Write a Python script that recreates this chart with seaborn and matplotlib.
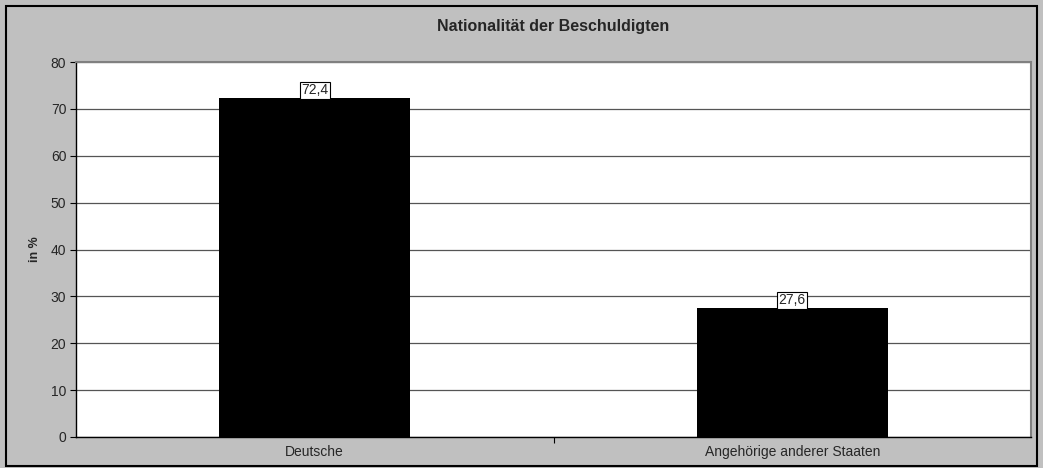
import matplotlib
matplotlib.use("Agg")
import matplotlib.pyplot as plt
import seaborn as sns
import pandas as pd
from matplotlib.patches import Rectangle

# Chart data
categories = ["Deutsche", "Angehörige anderer Staaten"]
values = [72.4, 27.6]
value_labels = ["72,4", "27,6"]
y_ticks = [0, 10, 20, 30, 40, 50, 60, 70, 80]

df = pd.DataFrame({"Nationalität": categories, "Anteil": values})

sns.set_style("white")
plt.rcParams["font.family"] = ["Liberation Sans", "DejaVu Sans"]

fig = plt.figure(figsize=(10.43, 4.68), dpi=100)
fig.patch.set_facecolor("#C0C0C0")

# outer chart frame
fig.patches.append(Rectangle((6 / 1043, 2 / 468), 1031 / 1043, 460 / 468,
                             transform=fig.transFigure, fill=False,
                             edgecolor="black", linewidth=1.5))

ax = fig.add_axes([76 / 1043, 31 / 468, 955 / 1043, 375 / 468])
ax.set_facecolor("white")

sns.barplot(data=df, x="Nationalität", y="Anteil", color="black",
            width=0.4, saturation=1, ax=ax, zorder=3,
            edgecolor="black", linewidth=0)

ax.set_ylim(0, 80)
ax.set_xlim(-0.5, 1.5)
ax.set_yticks(y_ticks)
ax.yaxis.grid(True, color="#555555", linewidth=0.9, zorder=0)
ax.set_axisbelow(True)

# value labels in white boxes, sitting on the bar tops
for i, (v, lbl) in enumerate(zip(values, value_labels)):
    ax.text(i, v + 0.05, lbl, ha="center", va="bottom", fontsize=10,
            zorder=5,
            bbox=dict(boxstyle="square,pad=0.12", facecolor="white",
                      edgecolor="black", linewidth=0.8))

fig.text(ax.get_position().x0 + ax.get_position().width / 2, 1 - 27 / 468,
         "Nationalität der Beschuldigten", fontsize=11.5, fontweight="bold",
         ha="center", va="center")
ax.set_ylabel("in %", fontsize=9, fontweight="bold", labelpad=7)
ax.set_xlabel("")

ax.tick_params(axis="y", direction="out", length=4, width=0.8, labelsize=10,
               left=True, color="black", pad=3)
ax.tick_params(axis="x", which="major", length=0, labelsize=10, pad=6)
ax.set_xticks([0.5], minor=True)
ax.tick_params(axis="x", which="minor", direction="out", length=4, width=0.8,
               bottom=True, color="black")

for side in ["left", "bottom"]:
    ax.spines[side].set_color("black")
    ax.spines[side].set_linewidth(1.0)
for side in ["top", "right"]:
    ax.spines[side].set_color("#808080")
    ax.spines[side].set_linewidth(1.5)

fig.savefig("out.png", dpi=100, facecolor=fig.get_facecolor())
